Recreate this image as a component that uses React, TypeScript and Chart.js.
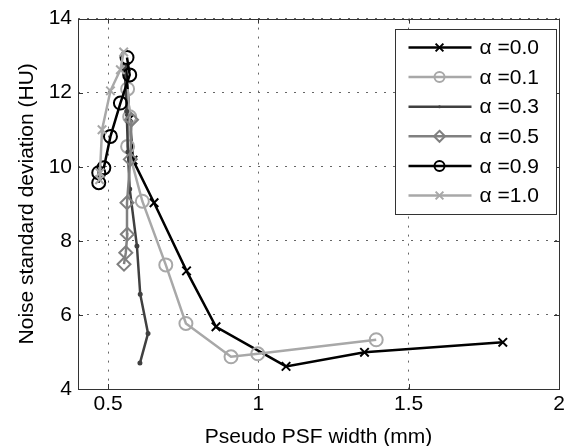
import React, { useEffect, useRef } from "react";
import { Chart, registerables } from "chart.js";

Chart.register(...registerables);

const seriesLabels = ["α =0.0", "α =0.1", "α =0.3", "α =0.5", "α =0.9", "α =1.0"];

const a00X = [0.56, 0.572, 0.583, 0.653, 0.761, 0.859, 1.092, 1.353, 1.813];
const a00Y = [12.7, 11.3, 10.18, 9.03, 7.19, 5.68, 4.61, 4.99, 5.26];

const a01X = [0.565, 0.572, 0.565, 0.614, 0.692, 0.759, 0.909, 0.998, 1.392];
const a01Y = [12.1, 11.35, 10.55, 9.07, 7.35, 5.77, 4.87, 4.95, 5.33];

const a03X = [0.555, 0.562, 0.566, 0.572, 0.596, 0.607, 0.633, 0.606];
const a03Y = [12.7, 11.5, 10.4, 9.4, 7.86, 6.56, 5.5, 4.7];

const a05X = [0.553, 0.559, 0.564, 0.563, 0.574, 0.578];
const a05Y = [7.37, 7.68, 8.18, 9.03, 10.2, 11.27];

const a09X = [0.469, 0.469, 0.486, 0.508, 0.541, 0.572, 0.563];
const a09Y = [9.57, 9.84, 9.97, 10.82, 11.72, 12.48, 12.95];

const a10X = [0.472, 0.473, 0.48, 0.508, 0.541, 0.552];
const a10Y = [9.65, 9.84, 11.0, 12.05, 12.62, 13.1];

const xTicks = [0.5, 1, 1.5, 2];
const yTicks = [4, 6, 8, 10, 12, 14];

const xTitle = "Pseudo PSF width (mm)";
const yTitle = "Noise standard deviation (HU)";

const seriesX = [a00X, a01X, a03X, a05X, a09X, a10X];
const seriesY = [a00Y, a01Y, a03Y, a05Y, a09Y, a10Y];

const colors = ["#000000", "#a8a8a8", "#404040", "#808080", "#000000", "#a8a8a8"];
const pointStyles = ["crossRot", "circle", "circle", "rectRot", "circle", "crossRot"];
const radii = [6, 6.5, 1.5, 6.5, 6.5, 6];

const FONT = "'Liberation Sans', Arial, sans-serif";
const FS = 21;

function drawMarker(ctx: CanvasRenderingContext2D, style: string, x: number, y: number, r: number, color: string) {
  ctx.save();
  ctx.strokeStyle = color;
  ctx.fillStyle = color;
  ctx.lineWidth = 2;
  ctx.beginPath();
  if (style === "crossRot") {
    const d = r * Math.SQRT1_2;
    ctx.moveTo(x - d, y - d);
    ctx.lineTo(x + d, y + d);
    ctx.moveTo(x - d, y + d);
    ctx.lineTo(x + d, y - d);
    ctx.stroke();
  } else if (style === "rectRot") {
    ctx.moveTo(x, y - r);
    ctx.lineTo(x + r, y);
    ctx.lineTo(x, y + r);
    ctx.lineTo(x - r, y);
    ctx.closePath();
    ctx.stroke();
  } else {
    ctx.arc(x, y, r, 0, Math.PI * 2);
    if (r < 3) ctx.fill();
    else ctx.stroke();
  }
  ctx.restore();
}

const framePlugin = {
  id: "frame",
  afterDraw(chart: any) {
    const { ctx, chartArea: a, scales } = chart;
    ctx.save();
    ctx.strokeStyle = "#333";
    ctx.lineWidth = 1;
    ctx.strokeRect(Math.round(a.left) + 0.5, Math.round(a.top) + 0.5, Math.round(a.right - a.left), Math.round(a.bottom - a.top));
    const tl = 5;
    ctx.beginPath();
    xTicks.forEach((v) => {
      const x = Math.round(scales.x.getPixelForValue(v)) + 0.5;
      ctx.moveTo(x, a.bottom);
      ctx.lineTo(x, a.bottom - tl);
      ctx.moveTo(x, a.top);
      ctx.lineTo(x, a.top + tl);
    });
    yTicks.forEach((v) => {
      const y = Math.round(scales.y.getPixelForValue(v)) + 0.5;
      ctx.moveTo(a.left, y);
      ctx.lineTo(a.left + tl, y);
      ctx.moveTo(a.right, y);
      ctx.lineTo(a.right - tl, y);
    });
    ctx.stroke();

    // legend box
    const bw = 161;
    const bh = 185;
    const bx = Math.round(a.right - 3 - bw) + 0.5;
    const by = Math.round(a.top + 10) + 0.5;
    ctx.fillStyle = "#ffffff";
    ctx.fillRect(bx, by, bw, bh);
    ctx.strokeStyle = "#333";
    ctx.lineWidth = 1;
    ctx.strokeRect(bx, by, bw, bh);
    ctx.font = `${FS}px ${FONT}`;
    ctx.textBaseline = "middle";
    ctx.textAlign = "left";
    chart.data.datasets.forEach((ds: any, i: number) => {
      const y = by + 18 + i * 29.6;
      ctx.strokeStyle = ds.borderColor;
      ctx.lineWidth = 2.5;
      ctx.beginPath();
      ctx.moveTo(bx + 13, y);
      ctx.lineTo(bx + 76, y);
      ctx.stroke();
      drawMarker(ctx, ds.pointStyle, bx + 44, y, ds.pointStyle === "circle" && ds.pointRadius > 3 ? 5 : ds.pointRadius > 3 ? 5.5 : 1.5, ds.borderColor);
      ctx.fillStyle = "#000";
      ctx.fillText(ds.label, bx + 84, y + 1);
    });
    ctx.restore();
  },
};

export default function App() {
  const ref = useRef<HTMLCanvasElement>(null);
  useEffect(() => {
    if (!ref.current) return;
    const datasets = seriesLabels.map((label, i) => ({
      label,
      data: seriesX[i].map((x, j) => ({ x, y: seriesY[i][j] })),
      showLine: true,
      borderColor: colors[i],
      backgroundColor: "rgba(0,0,0,0)",
      pointBorderColor: colors[i],
      pointBackgroundColor: i === 2 ? colors[i] : "rgba(0,0,0,0)",
      pointStyle: pointStyles[i],
      pointRadius: radii[i],
      pointBorderWidth: 2,
      borderWidth: 2.5,
      tension: 0,
      order: 5 - i,
    }));
    const chart = new Chart(ref.current, {
      type: "scatter",
      data: { datasets },
      plugins: [framePlugin],
      options: {
        animation: false,
        responsive: false,
        layout: { padding: { top: 17, right: 11, left: 0, bottom: 0 } },
        plugins: { legend: { display: false }, tooltip: { enabled: false } },
        scales: {
          x: {
            type: "linear",
            min: 0.4,
            max: 2,
            afterBuildTicks: (axis: any) => {
              axis.ticks = xTicks.map((v) => ({ value: v }));
            },
            afterFit: (axis: any) => {
              axis.height = 57;
            },
            ticks: {
              font: { size: FS, family: FONT },
              color: "#000",
              padding: 3,
              maxRotation: 0,
              autoSkip: false,
              callback: (v: any) => String(v),
            },
            grid: { color: "#666", lineWidth: 1, drawTicks: false },
            border: { display: false, dash: [2, 7] },
            title: {
              display: true,
              text: xTitle,
              font: { size: FS, family: FONT, lineHeight: 1 },
              color: "#000",
              padding: { top: 0, bottom: -2 },
            },
          },
          y: {
            type: "linear",
            min: 4,
            max: 14,
            afterBuildTicks: (axis: any) => {
              axis.ticks = yTicks.map((v) => ({ value: v }));
            },
            afterFit: (axis: any) => {
              axis.width = 78;
            },
            ticks: {
              font: { size: FS, family: FONT },
              color: "#000",
              padding: 6,
              autoSkip: false,
              callback: (v: any) => String(v),
            },
            grid: { color: "#666", lineWidth: 1, drawTicks: false },
            border: { display: false, dash: [2, 7] },
            title: {
              display: true,
              text: yTitle,
              font: { size: FS, family: FONT, lineHeight: 1 },
              color: "#000",
              padding: { top: 17, bottom: 0 },
            },
          },
        },
      },
    });
    return () => chart.destroy();
  }, []);
  return (
    <div style={{ position: "fixed", left: 0, top: 0, width: 570, height: 446, background: "#fff" }}>
      <canvas ref={ref} width={570} height={446} style={{ display: "block" }} />
    </div>
  );
}
